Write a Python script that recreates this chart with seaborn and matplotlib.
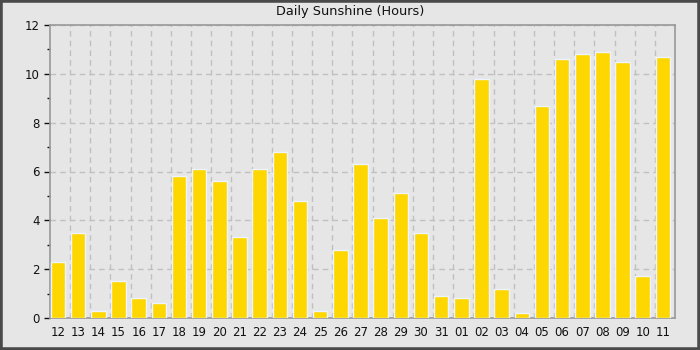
import matplotlib
matplotlib.use("Agg")
import matplotlib.pyplot as plt
import seaborn as sns
import pandas as pd
from matplotlib.patches import Rectangle
from matplotlib.ticker import MultipleLocator, FixedLocator

days = ["12", "13", "14", "15", "16", "17", "18", "19", "20", "21", "22",
        "23", "24", "25", "26", "27", "28", "29", "30", "31", "01", "02",
        "03", "04", "05", "06", "07", "08", "09", "10", "11"]
sunshine = [2.3, 3.5, 0.3, 1.5, 0.8, 0.6, 5.8, 6.1, 5.6, 3.3, 6.1,
            6.8, 4.8, 0.3, 2.8, 6.3, 4.1, 5.1, 3.5, 0.9, 0.8, 9.8,
            1.2, 0.2, 8.7, 10.6, 10.8, 10.9, 10.5, 1.7, 10.7]
title = "Daily Sunshine (Hours)"

df = pd.DataFrame({"day": days, "hours": sunshine})

sns.set_style("white")
plt.rcParams["font.family"] = ["DejaVu Sans"]

fig = plt.figure(figsize=(7, 3.5), dpi=100)
fig.patch.set_facecolor("#e6e6e6")
ax = fig.add_axes([50 / 700, 32 / 350, 625 / 700, 293 / 350])
ax.set_facecolor("#e6e6e6")

sns.barplot(data=df, x="day", y="hours", order=days, color="#ffd700",
            saturation=1, width=0.72, edgecolor="#eef4ff", linewidth=1,
            ax=ax, zorder=3)

n = len(days)
ax.set_xlim(-0.4, n - 0.4)
ax.set_ylim(0, 12)
ax.set_xlabel("")
ax.set_ylabel("")

ax.yaxis.set_major_locator(MultipleLocator(2))
ax.yaxis.set_minor_locator(MultipleLocator(1))
ax.xaxis.set_minor_locator(FixedLocator([i + 0.6 for i in range(n - 1)]))

grid_kw = dict(color="#c0c0c0", linestyle=(0, (4, 3)), linewidth=1)
ax.grid(which="major", axis="y", **grid_kw)
ax.grid(which="minor", axis="x", **grid_kw)
ax.grid(which="major", axis="x", visible=False)
ax.set_axisbelow(True)

for s in ax.spines.values():
    s.set_visible(True)
    s.set_color("#999999")
    s.set_linewidth(1.2)

ax.tick_params(axis="x", which="both", length=0, pad=6, labelsize=8.5,
               colors="#111111")
ax.tick_params(axis="y", which="major", length=4.5, width=1, pad=3,
               labelsize=8.5, colors="#111111", left=True)
ax.tick_params(axis="y", which="minor", length=2.5, width=1, left=True,
               color="#111111")

fig.text(0.5, 1 - 12 / 350, title, ha="center", va="center",
         fontsize=9.3, color="#111111")

# frame with bevel
fig.patches.append(Rectangle((0, 0), 1, 1, transform=fig.transFigure,
                             fill=False, edgecolor="#4a4a4a", linewidth=4,
                             zorder=10))
fig.lines.append(plt.Line2D([2.5 / 700, 697.5 / 700], [2.5 / 350, 2.5 / 350],
                            transform=fig.transFigure, color="white", lw=1))
fig.lines.append(plt.Line2D([697.5 / 700, 697.5 / 700], [2.5 / 350, 347.5 / 350],
                            transform=fig.transFigure, color="white", lw=1))

fig.savefig("out.png", dpi=100, facecolor=fig.get_facecolor())
